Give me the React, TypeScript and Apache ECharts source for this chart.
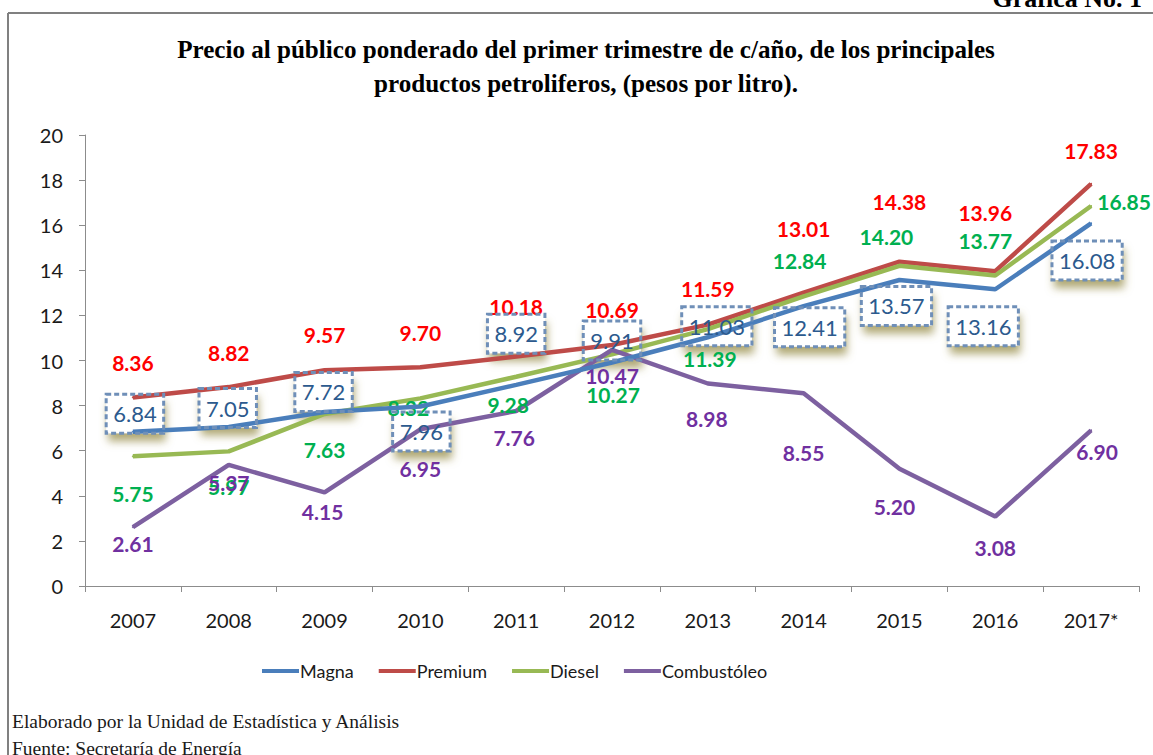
import React, { useEffect, useRef } from "react";
import * as echarts from "echarts";

const years = ["2007", "2008", "2009", "2010", "2011", "2012", "2013", "2014", "2015", "2016", "2017*"];
const magna = [6.84, 7.05, 7.72, 7.96, 8.92, 9.91, 11.03, 12.41, 13.57, 13.16, 16.08];
const premium = [8.36, 8.82, 9.57, 9.7, 10.18, 10.69, 11.59, 13.01, 14.38, 13.96, 17.83];
const diesel = [5.75, 5.97, 7.63, 8.32, 9.28, 10.27, 11.39, 12.84, 14.2, 13.77, 16.85];
const combustoleo = [2.61, 5.37, 4.15, 6.95, 7.76, 10.47, 8.98, 8.55, 5.2, 3.08, 6.9];
const seriesNames = ["Magna", "Premium", "Diesel", "Combustóleo"];

// label placement (offset of label centre from its point, in px)
const magnaLabelOffsets = [[2, -18], [-1, -19], [-1, -20], [1, 25], [0, -51], [0, -22], [9, -11], [6, 21], [-3, 26], [-12, 37], [-4, 37]];
const premiumLabelOffsets = [[0, -35], [0, -35], [0, -36], [0, -35], [0, -50], [0, -35], [0, -36], [0, -64], [0, -60], [-10, -59], [0, -33]];
const dieselLabelOffsets = [[0, 37], [0, 35], [0, 36], [-12, 9], [-8, 28], [1, 40], [2, 29], [-4, -36], [-13, -29], [-10, -35], [33, -5]];
const combLabelOffsets = [[0, 16], [0, 18], [-2, 19], [0, 39], [-2, 26], [0, 26], [-1, 35], [0, 59], [-5, 38], [0, 31], [6, 21]];

const fmt = (v: number) => v.toFixed(2);
const FONT = "Lato";

function withLabels(values: number[], offsets: number[][]) {
  return values.map((v, i) => ({ value: v, label: { offset: offsets[i] } }));
}

export default function App() {
  const ref = useRef<HTMLDivElement>(null);
  useEffect(() => {
    if (!ref.current) return;
    const chart = echarts.init(ref.current, null, { renderer: "svg" });
    const colored = (color: string) => ({
      show: true,
      position: "inside",
      color,
      fontFamily: FONT,
      fontWeight: "bold",
      fontSize: 21,
      formatter: (p: any) => fmt(p.value),
    });
    const boxLabel = {
      show: true,
      position: "inside",
      fontFamily: FONT,
      fontSize: 22,
      padding: [9, 7, 8, 7],
      formatter: (p: any) => fmt(p.value),
    };
    const baseLine = (name: string, data: any, color: string, z: number, label: any) => ({
      name,
      type: "line",
      data,
      z,
      symbol: "circle",
      symbolSize: 2,
      showSymbol: true,
      itemStyle: { color },
      lineStyle: { color, width: 4.5 },
      label,
      emphasis: { disabled: true },
    });
    const titleFont = 'bold 26px "Liberation Serif"';
    const option: any = {
      animation: false,
      backgroundColor: "#ffffff",
      textStyle: { fontFamily: FONT },
      grid: { left: 85, right: 14, top: 135, bottom: 169, containLabel: false },
      legend: {
        data: seriesNames,
        left: 262,
        top: 662,
        padding: 0,
        icon: "rect",
        itemWidth: 37,
        itemHeight: 4,
        itemGap: 25,
        textStyle: { fontFamily: FONT, fontSize: 18, color: "#1a1a1a", padding: [0, 0, 0, -4] },
      },
      xAxis: {
        type: "category",
        data: years,
        boundaryGap: true,
        axisLine: { lineStyle: { color: "#8c8c8c", width: 1 } },
        axisTick: { show: true, length: 6, alignWithLabel: false, lineStyle: { color: "#8c8c8c" } },
        axisLabel: { color: "#1a1a1a", fontFamily: FONT, fontSize: 20, margin: 24 },
        splitLine: { show: false },
      },
      yAxis: {
        type: "value",
        min: 0,
        max: 20,
        interval: 2,
        axisLine: { show: true, lineStyle: { color: "#8c8c8c", width: 1 } },
        axisTick: { show: true, length: 6, lineStyle: { color: "#8c8c8c" } },
        axisLabel: { color: "#1a1a1a", fontFamily: FONT, fontSize: 20, margin: 22 },
        splitLine: { show: false },
      },
      series: [
        {
          name: "_sombra",
          type: "line",
          data: withLabels(magna, magnaLabelOffsets),
          z: 1,
          symbol: "circle",
          symbolSize: 1,
          itemStyle: { color: "rgba(0,0,0,0)" },
          lineStyle: { width: 0, opacity: 0 },
          label: {
            ...boxLabel,
            color: "rgba(0,0,0,0)",
            backgroundColor: "#ffffff",
            shadowColor: "rgba(150,140,70,0.75)",
            shadowBlur: 9,
            shadowOffsetX: 2,
            shadowOffsetY: 8,
          },
          emphasis: { disabled: true },
          silent: true,
        },
        baseLine("Magna", withLabels(magna, magnaLabelOffsets), "#4a7ebb", 4, {
          ...boxLabel,
          color: "#2c5a8e",
          backgroundColor: "transparent",
          borderColor: "#6f8fb8",
          borderWidth: 1.5,
          borderType: [5, 3],
        }),
        baseLine("Premium", withLabels(premium, premiumLabelOffsets), "#be4b48", 3, colored("#ff0000")),
        baseLine("Diesel", withLabels(diesel, dieselLabelOffsets), "#98b954", 3, colored("#00b050")),
        baseLine("Combustóleo", withLabels(combustoleo, combLabelOffsets), "#7d60a0", 3, colored("#7030a0")),
      ],
      graphic: [
        { type: "line", shape: { x1: 8, y1: 13, x2: 1153, y2: 13 }, style: { stroke: "#808080", lineWidth: 2 } },
        { type: "line", shape: { x1: 8, y1: 13, x2: 8, y2: 755 }, style: { stroke: "#808080", lineWidth: 2 } },
        {
          type: "text",
          x: 1142,
          y: 11,
          style: {
            text: "Gráfica No. 1",
            font: titleFont,
            textAlign: "right",
            textVerticalAlign: "bottom",
            fill: "#000",
          },
        },
        {
          type: "text",
          x: 586,
          y: 49,
          scaleX: 0.965,
          style: {
            text: "Precio al público ponderado del primer trimestre de c/año, de los principales",
            font: titleFont,
            textAlign: "center",
            textVerticalAlign: "middle",
            fill: "#000",
          },
        },
        {
          type: "text",
          x: 586,
          y: 83,
          scaleX: 0.965,
          style: {
            text: "productos petroliferos, (pesos por litro).",
            font: titleFont,
            textAlign: "center",
            textVerticalAlign: "middle",
            fill: "#000",
          },
        },
        {
          type: "text",
          x: 12,
          y: 721,
          style: {
            text: "Elaborado por la Unidad de Estadística y Análisis",
            font: '19.5px "Liberation Serif"',
            textAlign: "left",
            textVerticalAlign: "middle",
            fill: "#1a1a1a",
          },
        },
        {
          type: "text",
          x: 12,
          y: 748,
          style: {
            text: "Fuente: Secretaría de Energía",
            font: '19.5px "Liberation Serif"',
            textAlign: "left",
            textVerticalAlign: "middle",
            fill: "#1a1a1a",
          },
        },
      ],
    };
    chart.setOption(option);
    return () => chart.dispose();
  }, []);
  return (
    <div
      ref={ref}
      style={{ position: "fixed", left: 0, top: 0, width: 1153, height: 755, background: "#fff" }}
    />
  );
}
